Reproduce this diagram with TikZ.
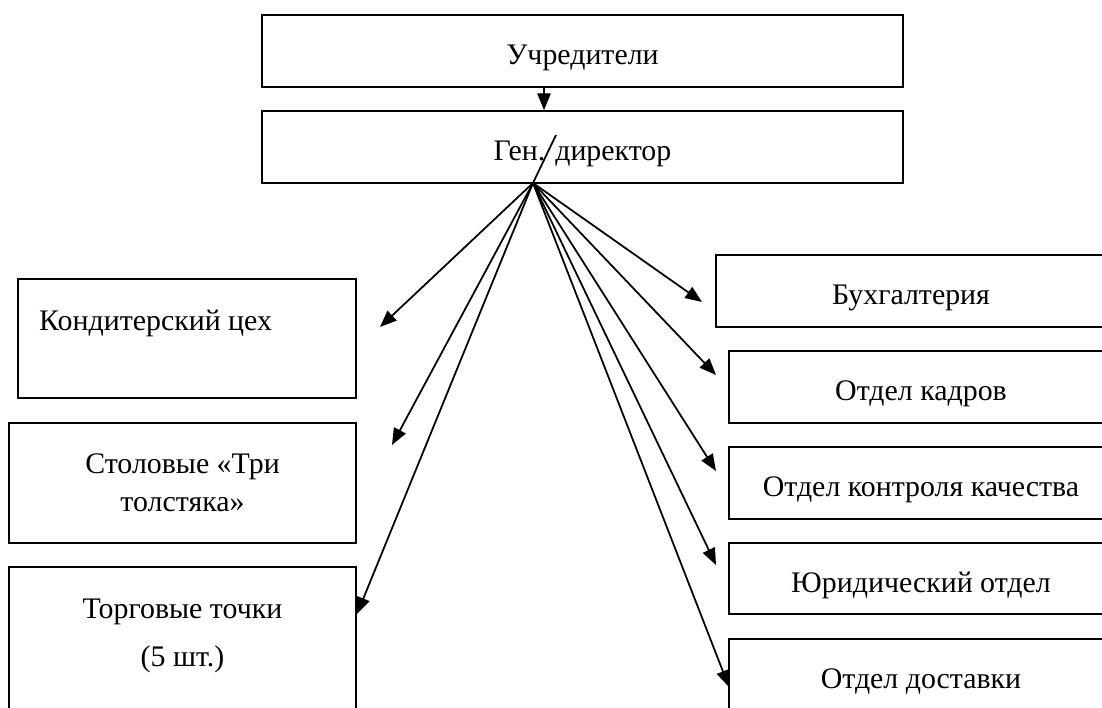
\documentclass[tikz,border=0pt]{standalone}
\usepackage{fontspec}
\setmainfont{Liberation Serif}
\usetikzlibrary{arrows.meta, positioning}

\begin{document}
\begin{tikzpicture}[x=0.02cm, y=-0.02cm,
    box/.style={draw, line width=0.95pt, inner sep=0pt},
    txt/.style={font=\fontsize{17}{21.5}\selectfont, align=center},
    low/.style={text height=15.5pt, text depth=0pt},
    arr/.style={-{Triangle[length=9.5pt,width=7.5pt]}, line width=1pt}]
    \useasboundingbox (0,0) rectangle (1102,707);
    \clip (0,0) rectangle (1102,707);

    \node[box, txt, low, minimum width=12.82cm, minimum height=1.44cm] (uch) at (582.5,51) {Учредители};
    \node[box, txt, low, minimum width=12.82cm, minimum height=1.44cm] (gen) at (582.5,147) {Ген. директор};

    \node[box, minimum width=6.76cm, minimum height=2.38cm] (kond) at (187,338.5) {};
    \node[txt, anchor=west] (kondtxt) at (33,323) {Кондитерский цех};
    \node[box, txt, minimum width=6.94cm, minimum height=2.40cm] (stol) at (182.5,483) {Столовые «Три\\толстяка»};
    \node[box, minimum width=6.94cm, minimum height=3.2cm] (torg) at (182.5,647) {};
    \node[txt] (torgtxt) at (182.5,636) {Торговые точки\\[5.5pt](5 шт.)};

    \node[box, txt, low, minimum width=7.80cm, minimum height=1.44cm] (buh) at (911,291) {Бухгалтерия};
    \node[box, txt, low, minimum width=7.68cm, minimum height=1.44cm] (kadr) at (921,387) {Отдел кадров};
    \node[box, txt, low, minimum width=7.68cm, minimum height=1.44cm] (kontr) at (921,483) {Отдел контроля качества};
    \node[box, txt, low, minimum width=7.68cm, minimum height=1.42cm] (yur) at (921,578.5) {Юридический отдел};
    \node[box, txt, minimum width=7.68cm, minimum height=1.68cm] (dost) at (921,681) {Отдел доставки};

    \draw[arr] ([xshift=-0.77cm]uch.south) -- ([xshift=-0.77cm]gen.north);

    \coordinate (hub) at (533,183);
    \coordinate (sl) at (556,135);
    \draw[line width=1pt] (hub) -- (sl);

    \coordinate (tkond) at (380,327);
    \coordinate (tstol) at (392,445);
    \coordinate (ttorg) at (357,614);
    \coordinate (tbuh) at (702,302);
    \coordinate (tkadr) at (716,375);
    \coordinate (tkontr) at (716,471);
    \coordinate (tyur) at (716,565);
    \coordinate (tdost) at (729,687);
    \foreach \t in {tkond,tstol,ttorg,tbuh,tkadr,tkontr,tyur,tdost}
        \draw[arr] (hub) -- (\t);
\end{tikzpicture}
\end{document}
